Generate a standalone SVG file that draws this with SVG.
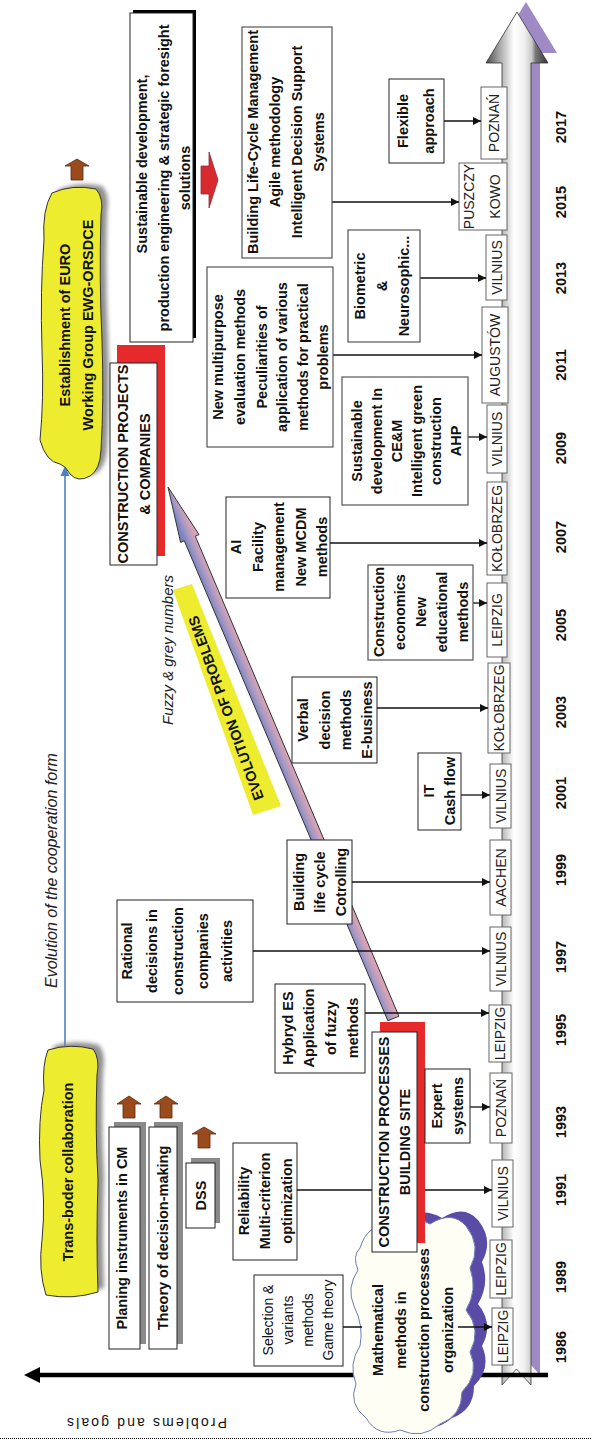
<svg xmlns="http://www.w3.org/2000/svg" width="592" height="1440" viewBox="0 0 592 1440">
<defs>
<style>
text{font-family:'Liberation Sans',Arial,sans-serif;fill:#111;}
.b{font-weight:bold;font-size:14.5px;text-anchor:middle;dominant-baseline:central;}
.r{font-size:14px;text-anchor:middle;dominant-baseline:central;}
.c{font-size:14px;text-anchor:middle;dominant-baseline:central;fill:#222;}
.yr{font-weight:bold;font-size:14.5px;text-anchor:middle;dominant-baseline:central;}
.it{font-style:italic;fill:#222;}
.box{fill:#fff;stroke:#222;stroke-width:1;}
.gbox{fill:#fff;stroke:#555;stroke-width:1.2;}
.city{fill:#fff;stroke:#666;stroke-width:1;}
.con{stroke:#111;stroke-width:1.3;fill:none;marker-end:url(#ah);}
.shd{fill:#8a8a8a;}
.brown{fill:#9b4a1c;stroke:#5c2a0c;stroke-width:0.8;}
.red{fill:#e62a2c;}
.yel{fill:#eeec2e;stroke:#333;stroke-width:1;}
.bshd{fill:#7d7d7d;opacity:0.85;}
</style>
<marker id="ah" viewBox="0 0 10 10" refX="10" refY="5" markerWidth="9" markerHeight="8" markerUnits="userSpaceOnUse" orient="auto"><path d="M0,0 L10,5 L0,10 z" fill="#111"/></marker>
<linearGradient id="tg" gradientUnits="userSpaceOnUse" x1="486" y1="0" x2="548" y2="0">
<stop offset="0" stop-color="#4a4a4a"/><stop offset="0.22" stop-color="#a8a8a8"/><stop offset="0.45" stop-color="#ffffff"/><stop offset="0.62" stop-color="#f0f0f0"/><stop offset="0.74" stop-color="#c8c8c8"/><stop offset="0.8" stop-color="#777"/><stop offset="1" stop-color="#333"/>
</linearGradient>
<linearGradient id="dg" gradientUnits="userSpaceOnUse" x1="184.3" y1="540.8" x2="195.3" y2="536.2">
<stop offset="0" stop-color="#7a82c0"/><stop offset="0.5" stop-color="#a89ac4"/><stop offset="1" stop-color="#d8a3b5"/>
</linearGradient>
<filter id="blur" x="-20%" y="-20%" width="140%" height="140%"><feGaussianBlur stdDeviation="2"/></filter>
</defs>
<rect width="592" height="1440" fill="#fff"/>

<g id="timeline">
<polygon points="511,1375 511,53 495,53 526,2 557,53 540,53 540,1375 525.5,1359" fill="#9f8ac6"/>
<polygon points="502,1385 502,63 486,63 517,12 548,63 531,63 531,1385 516.5,1369" fill="url(#tg)" stroke="#333" stroke-width="0.8"/>
<line x1="548" y1="1375" x2="38" y2="1375" stroke="#000" stroke-width="4.5"/>
<polygon points="24,1375 40,1367 40,1383" fill="#000"/>
<text transform="translate(147,1418) rotate(180)" text-anchor="middle" font-size="14" textLength="160" lengthAdjust="spacing" fill="#333">Problems and goals</text>
<line x1="0" y1="1438.5" x2="592" y2="1438.5" stroke="#000" stroke-width="1" stroke-dasharray="1,1"/>
<g class="years">
<text class="yr" transform="translate(561,1347) rotate(-90)">1986</text>
<text class="yr" transform="translate(561,1277) rotate(-90)">1989</text>
<text class="yr" transform="translate(561,1190) rotate(-90)">1991</text>
<text class="yr" transform="translate(561,1122) rotate(-90)">1993</text>
<text class="yr" transform="translate(561,1030) rotate(-90)">1995</text>
<text class="yr" transform="translate(561,957) rotate(-90)">1997</text>
<text class="yr" transform="translate(561,870) rotate(-90)">1999</text>
<text class="yr" transform="translate(561,793) rotate(-90)">2001</text>
<text class="yr" transform="translate(561,712) rotate(-90)">2003</text>
<text class="yr" transform="translate(561,625) rotate(-90)">2005</text>
<text class="yr" transform="translate(561,537) rotate(-90)">2007</text>
<text class="yr" transform="translate(561,448) rotate(-90)">2009</text>
<text class="yr" transform="translate(561,365) rotate(-90)">2011</text>
<text class="yr" transform="translate(561,278) rotate(-90)">2013</text>
<text class="yr" transform="translate(561,202) rotate(-90)">2015</text>
<text class="yr" transform="translate(561,127) rotate(-90)">2017</text>
</g>
</g>

<g id="city-1986"><rect class="city" x="492" y="1308" width="21" height="57"/><text class="c" transform="translate(502.5,1336.5) rotate(-90)">LEIPZIG</text></g>
<g id="city-1989"><rect class="city" x="490" y="1240" width="22" height="58"/><text class="c" transform="translate(501,1269) rotate(-90)">LEIPZIG</text></g>
<g id="city-1991"><rect class="city" x="492" y="1160" width="21" height="67"/><text class="c" transform="translate(502.5,1193.5) rotate(-90)">VILNIUS</text></g>
<g id="city-1993"><rect class="city" x="490" y="1073" width="22" height="70"/><text class="c" transform="translate(501,1108) rotate(-90)">POZNAŃ</text></g>
<g id="city-1995"><rect class="city" x="489" y="1005" width="22" height="57"/><text class="c" transform="translate(500,1033.5) rotate(-90)">LEIPZIG</text></g>
<g id="city-1997"><rect class="city" x="490" y="927" width="21" height="64"/><text class="c" transform="translate(500.5,959) rotate(-90)">VILNIUS</text></g>
<g id="city-1999"><rect class="city" x="490" y="840" width="21" height="75"/><text class="c" transform="translate(500.5,877.5) rotate(-90)">AACHEN</text></g>
<g id="city-2001"><rect class="city" x="490" y="764" width="21" height="64"/><text class="c" transform="translate(500.5,796) rotate(-90)">VILNIUS</text></g>
<g id="city-2003"><rect class="city" x="488" y="663" width="22" height="90"/><text class="c" transform="translate(499,708) rotate(-90)">KOŁOBRZEG</text></g>
<g id="city-2005"><rect class="city" x="487" y="583" width="20" height="74"/><text class="c" transform="translate(497,620) rotate(-90)">LEIPZIG</text></g>
<g id="city-2007"><rect class="city" x="487" y="482" width="20" height="93"/><text class="c" transform="translate(497,528.5) rotate(-90)">KOŁOBRZEG</text></g>
<g id="city-2009"><rect class="city" x="487" y="405" width="20" height="68"/><text class="c" transform="translate(497,439) rotate(-90)">VILNIUS</text></g>
<g id="city-2011"><rect class="city" x="482" y="307" width="26" height="96"/><text class="c" transform="translate(495,355) rotate(-90)">AUGUSTÓW</text></g>
<g id="city-2013"><rect class="city" x="486" y="235" width="21" height="65"/><text class="c" transform="translate(496.5,267.5) rotate(-90)">VILNIUS</text></g>
<g id="city-2015"><rect class="city" x="459" y="163" width="48" height="67"/><text class="c" transform="translate(483,196.5) rotate(-90)"><tspan x="0" y="-14">PUSZCZY</tspan><tspan x="0" y="12">KOWO</tspan></text></g>
<g id="city-2017"><rect class="city" x="481" y="87" width="26" height="72"/><text class="c" transform="translate(494,123) rotate(-90)">POZNAŃ</text></g>

<g id="cooperation-evolution">
<line x1="65" y1="1047" x2="65" y2="474" stroke="#4f81bd" stroke-width="1.6"/>
<polygon points="65,466 60.5,476 69.5,476" fill="#4f81bd"/>
<text class="it" font-size="16" transform="translate(57,988) rotate(-90)">Evolution of the cooperation form</text>
</g>

<g id="evolution-of-problems">
<polygon points="173,590 192,584 281,806 253,815" fill="#eeec2e"/>
<text class="b" font-size="13" transform="translate(226,708) rotate(-110)">EVOLUTION OF PROBLEMS</text>
<polygon points="168,487 199,534.6 195.3,536.2 398.9,1016.2 387.9,1020.8 184.3,540.8 180.6,542.4" fill="url(#dg)" stroke="#333" stroke-width="1"/>
<text class="it" font-size="15" transform="translate(173,725) rotate(-90)">Fuzzy &amp; grey numbers</text>
</g>

<g id="mathematical-methods">
<path transform="translate(12,-6)" fill="#5a4ba6" d="M360,1248 Q368,1222 392,1226 Q410,1212 430,1224 Q452,1210 466,1226 Q482,1246 470,1268 Q478,1290 466,1310 Q482,1330 470,1352 Q480,1374 462,1392 Q462,1416 440,1424 Q422,1440 400,1430 Q378,1438 366,1418 Q348,1404 356,1384 Q348,1364 360,1346 Q364,1326 354,1306 Q346,1288 358,1270 Q352,1256 360,1248 Z"/>
<path fill="#fffef5" stroke="#6a7fb0" stroke-width="1" d="M360,1248 Q368,1222 392,1226 Q410,1212 430,1224 Q452,1210 466,1226 Q482,1246 470,1268 Q478,1290 466,1310 Q482,1330 470,1352 Q480,1374 462,1392 Q462,1416 440,1424 Q422,1440 400,1430 Q378,1438 366,1418 Q348,1404 356,1384 Q348,1364 360,1346 Q364,1326 354,1306 Q346,1288 358,1270 Q352,1256 360,1248 Z"/>
<text class="b" font-size="15.5" transform="translate(412,1330) rotate(-90)"><tspan x="0" y="-34">Mathematical</tspan><tspan x="0" y="-11.5">methods in</tspan><tspan x="0" y="12">construction processes</tspan><tspan x="0" y="36">organization</tspan></text>
</g>

<g id="connectors">
<path class="con" d="M343,1327 H362 M458,1327 H492"/>
<path class="con" d="M297,1190 H372 M425,1190 H492"/>
<path class="con" d="M470,1107 H490"/>
<path class="con" d="M365,1013 H489"/>
<path class="con" d="M253,951 H490"/>
<path class="con" d="M352,882 H490"/>
<path class="con" d="M461,795 H490"/>
<path class="con" d="M377,708 H488"/>
<path class="con" d="M463,603 H487"/>
<path class="con" d="M330,543 H487"/>
<path class="con" d="M468,437 H487"/>
<path class="con" d="M333,355 H482"/>
<path class="con" d="M420,278 H486"/>
<path class="con" d="M332,202 H459"/>
<path class="con" d="M444,121 H481"/>
</g>

<g id="trans-border">
<path class="bshd" filter="url(#blur)" transform="translate(6,-4)" d="M48,1050 Q70,1043 93,1049 Q100,1058 97,1075 Q95,1130 98,1180 Q96,1240 98,1292 Q72,1300 46,1295 Q38,1270 42,1240 Q46,1200 40,1160 Q38,1120 44,1090 Q42,1065 48,1050 Z"/>
<path class="yel" d="M48,1050 Q70,1043 93,1049 Q100,1058 97,1075 Q95,1130 98,1180 Q96,1240 98,1292 Q72,1300 46,1295 Q38,1270 42,1240 Q46,1200 40,1160 Q38,1120 44,1090 Q42,1065 48,1050 Z"/>
<text class="b" font-size="16.5" transform="translate(68,1172) rotate(-90)">Trans-boder collaboration</text>
</g>

<g id="euro-working-group">
<path class="bshd" filter="url(#blur)" transform="translate(6,-3)" d="M52,193 Q72,184 96,189 Q104,198 101,215 Q99,280 102,340 Q104,400 101,450 Q100,470 90,476 Q78,483 70,474 Q66,466 60,464 Q46,462 40,440 Q44,400 42,350 Q40,290 44,240 Q42,210 52,193 Z"/>
<path class="yel" d="M52,193 Q72,184 96,189 Q104,198 101,215 Q99,280 102,340 Q104,400 101,450 Q100,470 90,476 Q78,483 70,474 Q66,466 60,464 Q46,462 40,440 Q44,400 42,350 Q40,290 44,240 Q42,210 52,193 Z"/>
<text class="b" font-size="16" transform="translate(76.5,325) rotate(-90)"><tspan x="0" y="-11.5">Establishment of EURO</tspan><tspan x="0" y="11.5">Working Group EWG-ORSDCE</tspan></text>
<polygon class="brown" points="71,180 71,166 65,166 77,159 89,166 83,166 83,180"/>
</g>

<g id="planing-instruments">
<rect class="shd" x="114" y="1122" width="32" height="222"/>
<rect class="box" x="109" y="1127" width="31" height="222"/>
<text class="b" transform="translate(122,1238) rotate(-90)">Planing instruments in CM</text>
<polygon class="brown" points="123,1118 123,1104 117,1104 129,1096 141,1104 135,1104 135,1118"/>
</g>

<g id="theory-decision-making">
<rect class="shd" x="154" y="1122" width="29" height="222"/>
<rect class="box" x="149" y="1127" width="28" height="222"/>
<text class="b" transform="translate(162.5,1238) rotate(-90)">Theory of decision-making</text>
<polygon class="brown" points="160,1118 160,1104 154,1104 166,1096 178,1104 172,1104 172,1118"/>
</g>

<g id="dss">
<rect class="shd" x="191" y="1158" width="29" height="65"/>
<rect class="box" x="186" y="1163" width="29" height="65"/>
<text class="b" transform="translate(201,1195.5) rotate(-90)">DSS</text>
<polygon class="brown" points="198,1148 198,1134 192,1134 204,1127 216,1134 210,1134 210,1148"/>
</g>

<g id="reliability">
<rect class="box" x="233" y="1143" width="64" height="117"/>
<text class="b" transform="translate(265,1201) rotate(-90)"><tspan x="0" y="-21">Reliability</tspan><tspan x="0" y="0">Multi-criterion</tspan><tspan x="0" y="22">optimization</tspan></text>
</g>

<g id="selection-variants">
<rect class="box" x="254" y="1275" width="89" height="91"/>
<text class="r" transform="translate(298.5,1320) rotate(-90)"><tspan x="0" y="-30.5">Selection &amp;</tspan><tspan x="0" y="-10.5">variants</tspan><tspan x="0" y="9">methods</tspan><tspan x="0" y="29">Game theory</tspan></text>
</g>

<g id="construction-processes">
<rect class="red" x="380" y="1022" width="45" height="221"/>
<rect class="box" x="372" y="1032" width="45" height="220"/>
<text class="b" font-size="13.5" transform="translate(394.5,1142) rotate(-90)"><tspan x="0" y="-10.5">CONSTRUCTION PROCESSES</tspan><tspan x="0" y="10.5">BUILDING SITE</tspan></text>
</g>

<g id="expert-systems">
<rect class="box" x="425" y="1069" width="45" height="74"/>
<text class="b" transform="translate(447.5,1106) rotate(-90)"><tspan x="0" y="-10.5">Expert</tspan><tspan x="0" y="10.5">systems</tspan></text>
</g>

<g id="hybrid-es">
<rect class="box" x="275" y="984" width="90" height="89"/>
<text class="b" transform="translate(320,1028) rotate(-90)"><tspan x="0" y="-32.5">Hybryd ES</tspan><tspan x="0" y="-10.8">Application</tspan><tspan x="0" y="10.8">of fuzzy</tspan><tspan x="0" y="32.5">methods</tspan></text>
</g>

<g id="rational-decisions">
<rect class="box" x="117" y="900" width="136" height="102"/>
<text class="b" transform="translate(185,951) rotate(-90)"><tspan x="0" y="-58">Rational</tspan><tspan x="0" y="-33">decisions in</tspan><tspan x="0" y="-7">construction</tspan><tspan x="0" y="18">companies</tspan><tspan x="0" y="42">activities</tspan></text>
</g>

<g id="building-life-cycle">
<rect class="box" x="287" y="840" width="65" height="84"/>
<text class="b" transform="translate(319.5,882) rotate(-90)"><tspan x="0" y="-21">Building</tspan><tspan x="0" y="0">life cycle</tspan><tspan x="0" y="21">Cotrolling</tspan></text>
</g>

<g id="it-cash-flow">
<rect class="box" x="418" y="753" width="43" height="77"/>
<text class="b" transform="translate(439.5,791) rotate(-90)"><tspan x="0" y="-10.5">IT</tspan><tspan x="0" y="10.5">Cash flow</tspan></text>
</g>

<g id="verbal-decision">
<rect class="box" x="292" y="677" width="85" height="86"/>
<text class="b" transform="translate(334.5,720) rotate(-90)"><tspan x="0" y="-31.5">Verbal</tspan><tspan x="0" y="-10">decision</tspan><tspan x="0" y="11">methods</tspan><tspan x="0" y="32">E-business</tspan></text>
</g>

<g id="construction-economics">
<rect class="gbox" x="368" y="565" width="105" height="95"/>
<text class="b" transform="translate(420.5,612) rotate(-90)"><tspan x="0" y="-41.5">Construction</tspan><tspan x="0" y="-20.5">economics</tspan><tspan x="0" y="0.5">New</tspan><tspan x="0" y="21.5">educational</tspan><tspan x="0" y="42.5">methods</tspan></text>
</g>

<g id="ai-facility">
<rect class="box" x="226" y="497" width="104" height="101"/>
<text class="b" transform="translate(278,547) rotate(-90)"><tspan x="0" y="-42">AI</tspan><tspan x="0" y="-20.5">Facility</tspan><tspan x="0" y="1">management</tspan><tspan x="0" y="22.5">New MCDM</tspan><tspan x="0" y="44">methods</tspan></text>
</g>

<g id="sustainable-cem">
<rect class="gbox" x="342" y="377" width="126" height="128"/>
<text class="b" transform="translate(405,441) rotate(-90)"><tspan x="0" y="-48">Sustainable</tspan><tspan x="0" y="-28">development In</tspan><tspan x="0" y="-8">CE&amp;M</tspan><tspan x="0" y="11.5">Intelligent green</tspan><tspan x="0" y="31">construction</tspan><tspan x="0" y="51">AHP</tspan></text>
</g>

<g id="construction-projects">
<rect class="red" x="117" y="345" width="48" height="211"/>
<rect class="box" x="110" y="363" width="47" height="202"/>
<text class="b" font-size="13.5" transform="translate(133.5,464) rotate(-90)"><tspan x="0" y="-10.5">CONSTRUCTION PROJECTS</tspan><tspan x="0" y="11.5">&amp; COMPANIES</tspan></text>
</g>

<g id="new-multipurpose">
<rect class="gbox" x="207" y="267" width="126" height="180"/>
<text class="b" transform="translate(270,357) rotate(-90)"><tspan x="0" y="-52">New multipurpose</tspan><tspan x="0" y="-30">evaluation methods</tspan><tspan x="0" y="-8">Peculiarities of</tspan><tspan x="0" y="12">application of various</tspan><tspan x="0" y="33">methods for practical</tspan><tspan x="0" y="53">problems</tspan></text>
</g>

<g id="biometric">
<rect class="gbox" x="348" y="230" width="72" height="112"/>
<text class="b" transform="translate(384,286) rotate(-90)"><tspan x="0" y="-24">Biometric</tspan><tspan x="0" y="-2">&amp;</tspan><tspan x="0" y="20">Neurosophic...</tspan></text>
</g>

<g id="building-lcm">
<rect class="gbox" x="242" y="27" width="90" height="231"/>
<text class="b" transform="translate(287,142) rotate(-90)"><tspan x="0" y="-34">Building Life-Cycle Management</tspan><tspan x="0" y="-12">Agile methodology</tspan><tspan x="0" y="10">Intelligent Decision Support</tspan><tspan x="0" y="32">Systems</tspan></text>
</g>

<g id="flexible-approach">
<rect class="box" x="389" y="79" width="55" height="84"/>
<text class="b" transform="translate(416.5,121) rotate(-90)"><tspan x="0" y="-14">Flexible</tspan><tspan x="0" y="12">approach</tspan></text>
</g>

<g id="sustainable-foresight">
<rect x="133" y="10" width="63" height="328" fill="#000"/>
<rect class="box" x="130" y="13" width="63" height="329"/>
<text class="b" font-size="15" transform="translate(161.5,0) rotate(-90)"><tspan x="-164" y="-20">Sustainable development,</tspan><tspan x="-178" y="2">production engineering &amp; strategic foresight</tspan><tspan x="-178" y="23">solutions</tspan></text>
<polygon points="201,166 209,166 209,152 218,180 209,208 209,194 201,194" fill="#d82a2e" stroke="#8a3040" stroke-width="0.8"/>
</g>
</svg>
